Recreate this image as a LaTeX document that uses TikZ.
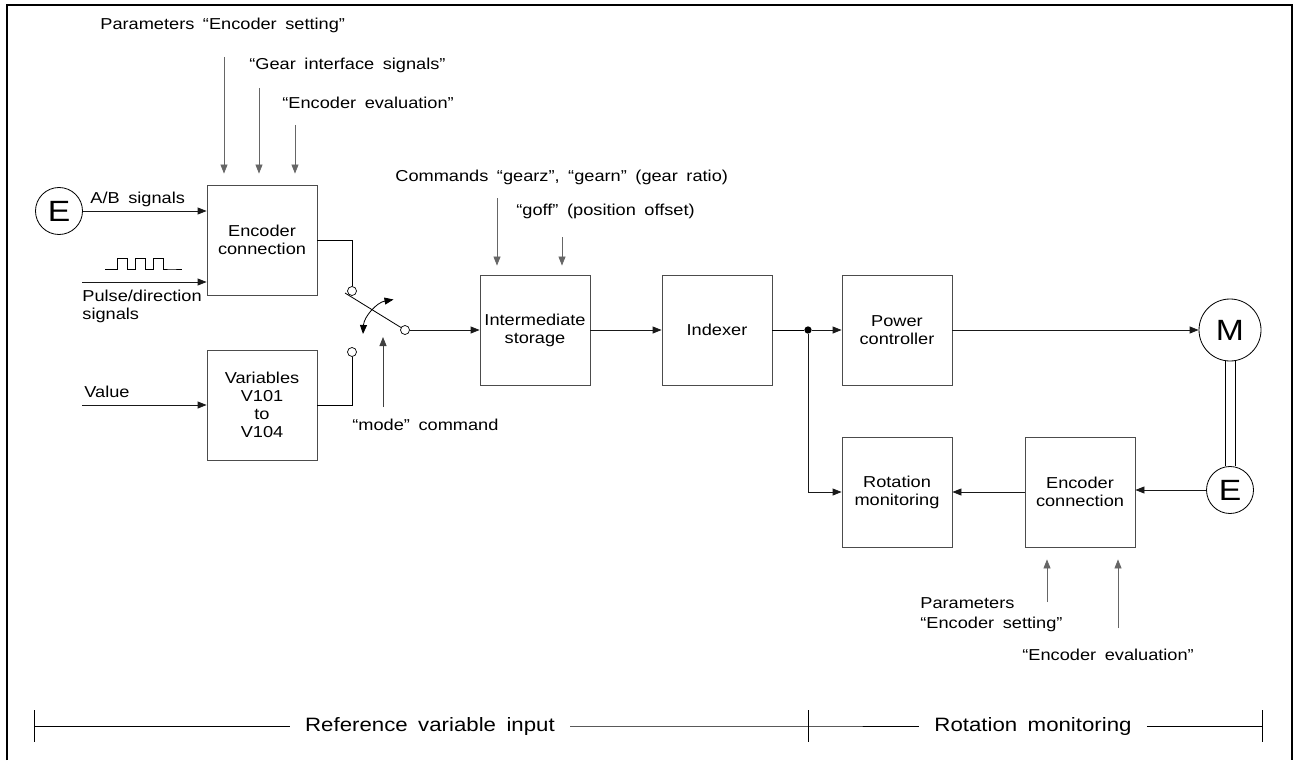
\documentclass[tikz,border=0pt]{standalone}
\usepackage{fontspec}
\setmainfont{Liberation Sans}[FakeStretch=1.15,WordSpace=1.7]
\usetikzlibrary{arrows.meta,calc,positioning}

\tikzset{
  blk/.style={draw=black!70,minimum width=3.3cm,minimum height=3.3cm,align=center,inner sep=0pt},
  lbl/.style={anchor=west,inner sep=0pt},
  sig/.style={->,black!90},
  parm/.style={sig,black!60,shorten >=0.33cm},
  contact/.style={circle,draw,fill=white,minimum size=0.27cm,inner sep=0pt,line width=0.6pt},
  unit/.style={circle,draw,inner sep=0pt,font=\fontsize{25}{25}\selectfont},
  barlbl/.style={inner ysep=0pt,inner xsep=0.45cm,font=\fontsize{16.5}{18}\selectfont},
}

\begin{document}
\begin{tikzpicture}[>={Triangle[length=0.27cm,width=0.21cm]},x=0.03cm,y=-0.03cm,
    font=\fontsize{13.5}{15.3}\selectfont,line width=0.7pt]
  \useasboundingbox (0,0) rectangle (1298,760);
  \draw[line width=1.2pt] (7,760) -- (7,5) -- (1292,5) -- (1292,760);

  % reference variable input
  \node[unit,minimum size=1.41cm] (encL) at (59,211) {E};
  \node[blk] (enc1) at (262,240) {Encoder\\connection};
  \node[blk] (vars) at (262,405) {Variables\\V101\\to\\V104};

  \node[lbl] (pSet) at (100,25) {Parameters “Encoder setting”};
  \node[lbl] (pGear) at (249,65) {“Gear interface signals”};
  \node[lbl] (pEval) at (282,103) {“Encoder evaluation”};
  \coordinate (a1) at (224,57);
  \coordinate (a2) at (259,88);
  \coordinate (a3) at (295,125);
  \draw[parm] (a1) -- (a1 |- enc1.north);
  \draw[parm] (a2) -- (a2 |- enc1.north);
  \draw[parm] (a3) -- (a3 |- enc1.north);

  \draw[sig] (encL) -- (encL -| enc1.west);
  \node[lbl] (abl) at (90,199) {A/B signals};

  \coordinate (pls) at (82,282);
  \draw[sig] (pls) -- (pls -| enc1.west);
  \draw[line width=0.6pt] (105,269) -- (117,269)
    \foreach \k in {0,1,2} { -- (117+18*\k,258) -- (127+18*\k,258) -- (127+18*\k,269) -- (135+18*\k,269) }
    -- (182,269);
  \node[lbl,align=left] (plsl) at (82,306) {Pulse/direction\\signals};

  \coordinate (val) at (82,405);
  \draw[sig] (val) -- (vars.west);
  \node[lbl] (vall) at (84,392) {Value};

  % switch
  \node[contact] (ctop) at (352,291) {};
  \node[contact] (cbot) at (352,352) {};
  \node[contact] (cout) at (405,330) {};
  \coordinate (blade) at (345,293);
  \draw (enc1.east) -| (ctop);
  \draw (vars.east) -| (cbot);
  \draw (cout) -- (blade);
  \coordinate (swing) at (363,334);
  \draw[<->] (swing) arc[start angle=-177,end angle=-100,radius=37];
  \coordinate (mode) at (383,407);
  \coordinate (modetip) at (383,337);
  \draw[sig,black!75] (mode) -- (modetip);
  \node[lbl] (model) at (352,425) {“mode” command};

  % main chain
  \node[blk] (inter) at (535,330) {Intermediate\\storage};
  \node[blk] (idx) at (717,330) {Indexer};
  \node[blk] (pwr) at (897,330) {Power\\controller};
  \node[unit,minimum size=1.86cm] (mot) at (1230,330) {M};

  \draw[sig] (cout) -- (inter.west);
  \draw[sig] (inter) -- (idx);
  \node[circle,fill=black,inner sep=0pt,minimum size=0.22cm] (jn) at (808,330) {};
  \draw (idx.east) -- (jn);
  \draw[sig] (jn) -- (pwr.west);
  \draw[sig] (pwr) -- (mot);

  \node[lbl] (cmdl) at (395,177) {Commands “gearz”, “gearn” (gear ratio)};
  \node[lbl] (goffl) at (516,211) {“goff” (position offset)};
  \coordinate (g1) at (497,198);
  \coordinate (g2) at (562,237);
  \draw[parm,shorten >=0.27cm] (g1) -- (g1 |- inter.north);
  \draw[parm,shorten >=0.27cm] (g2) -- (g2 |- inter.north);

  % rotation monitoring
  \node[blk] (rot) at (897,492) {Rotation\\monitoring};
  \node[blk] (enc2) at (1080,492) {Encoder\\connection};
  \node[unit,minimum size=1.41cm] (encR) at (1230,490) {E};
  \draw ($(mot.south)+(-5,0)$) -- ($(encR.north)+(-5,0)$);
  \draw ($(mot.south)+(5,0)$) -- ($(encR.north)+(5,0)$);
  \draw[sig] (jn) |- (rot.west);
  \draw[sig] (encR) -- (encR -| enc2.east);
  \draw[sig] (enc2) -- (rot);

  \coordinate (b1) at (1047,602);
  \coordinate (b2) at (1118,628);
  \draw[parm,shorten >=0.36cm] (b1) -- (b1 |- enc2.south);
  \draw[parm,shorten >=0.36cm] (b2) -- (b2 |- enc2.south);
  \node[lbl] (rSet1) at (920,603) {Parameters};
  \node[lbl] (rSet2) at (920,624) {“Encoder setting”};
  \node[lbl] (rEval) at (1022,655) {“Encoder evaluation”};

  % bottom bar
  \coordinate (tL) at (34,726);
  \coordinate (tM) at (808,726);
  \coordinate (tR) at (1262,726);
  \node[barlbl] (refin) at (430,726) {Reference variable input};
  \node[barlbl] (rotmon) at (1033,726) {Rotation monitoring};
  \draw (tL) -- (refin.west);
  \draw (refin.east) -- (tM) -- (rotmon.west);
  \draw (rotmon.east) -- (tR);
  \foreach \t in {tL,tM,tR}
    \draw ($(\t)+(0,-16)$) -- ($(\t)+(0,16)$);
\end{tikzpicture}
\end{document}
